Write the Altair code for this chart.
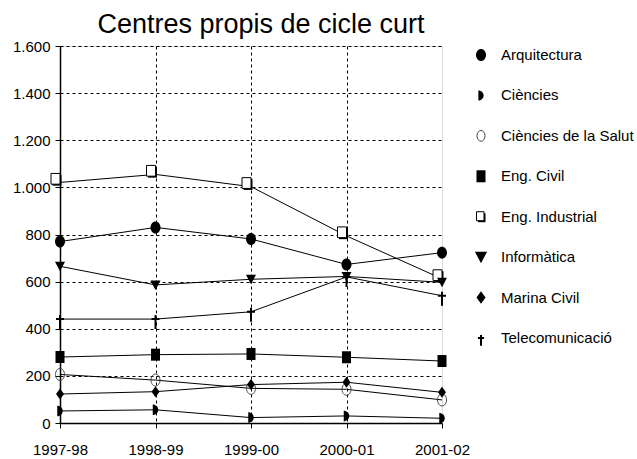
import altair as alt
import pandas as pd

# Academic years on the x axis
years = ["1997-98", "1998-99", "1999-00", "2000-01", "2001-02"]

# Centres, in legend order
centres = [
    "Arquitectura",
    "Ciències",
    "Ciències de la Salut",
    "Eng. Civil",
    "Eng. Industrial",
    "Informàtica",
    "Marina Civil",
    "Telecomunicació",
]

# Students per centre and year
arquitectura = [770, 830, 781, 673, 723]
ciencies = [51, 56, 23, 30, 20]
ciencies_salut = [206, 182, 147, 143, 98]
eng_civil = [280, 290, 293, 279, 263]
eng_industrial = [1021, 1055, 1003, 794, 612]
informatica = [665, 586, 610, 622, 597]
marina_civil = [123, 133, 163, 173, 130]
telecomunicacio = [441, 441, 472, 620, 540]

y_ticks = [0, 200, 400, 600, 800, 1000, 1200, 1400, 1600]

series = [arquitectura, ciencies, ciencies_salut, eng_civil,
          eng_industrial, informatica, marina_civil, telecomunicacio]

df = pd.DataFrame(
    [{"centre": c, "curs": y, "alumnes": v}
     for c, vals in zip(centres, series) for y, v in zip(years, vals)]
)

FONT = "Liberation Sans"

# Marker outlines (unit = sqrt(size)/2 px)
ELLIPSE = "M0,-1.2 A1,1.2 0 1,1 0,1.2 A1,1.2 0 1,1 0,-1.2 Z"
HALF = "M-0.55,-1.05 A1.1,1.05 0 0,1 -0.55,1.05 Z"
OVAL = "M0,-1.2 A0.9,1.2 0 1,1 0,1.2 A0.9,1.2 0 1,1 0,-1.2 Z"
RECT = "M-0.9,-1.2 L0.9,-1.2 L0.9,1.2 L-0.9,1.2 Z"
SHADOW = "M-1.5,-1.5 L0.3,-1.5 L0.3,0.65 L-1.5,0.65 Z"
BOX = "M-1.8,-1.8 L0,-1.8 L0,0.35 L-1.8,0.35 Z"
SHADOW_C = "M-0.6,-0.7 L0.9,-0.7 L0.9,1.1 L-0.6,1.1 Z"
BOX_C = "M-0.9,-1.0 L0.6,-1.0 L0.6,0.8 L-0.9,0.8 Z"
TRI = "M-1,-0.9 L1,-0.9 L0,1 Z"
DIAMOND = "M0,-1.1 L0.8,0 L0,1.1 L-0.8,0 Z"
DAGGER = "M0,-0.8 L0,2 M-0.8,0 L0.8,0"

# (shape, filled, fill, stroke, strokeWidth) per drawn layer of each centre
plot_marks = {
    "Arquitectura": [(ELLIPSE, True, "black", "black", 0)],
    "Ciències": [(HALF, True, "black", "black", 0)],
    "Ciències de la Salut": [(OVAL, False, "none", "#444444", 1)],
    "Eng. Civil": [(RECT, True, "black", "black", 0)],
    "Eng. Industrial": [(SHADOW, True, "black", "black", 0),
                        (BOX, True, "white", "black", 1)],
    "Informàtica": [(TRI, True, "black", "black", 0)],
    "Marina Civil": [(DIAMOND, True, "black", "black", 0)],
    "Telecomunicació": [(DAGGER, False, "none", "black", 2)],
}
legend_marks = dict(plot_marks)
legend_marks["Eng. Industrial"] = [(SHADOW_C, True, "black", "black", 0),
                                   (BOX_C, True, "white", "black", 1)]
legend_sizes = {
    "Arquitectura": 100, "Ciències": 90, "Ciències de la Salut": 80,
    "Eng. Civil": 100, "Eng. Industrial": 100, "Informàtica": 150,
    "Marina Civil": 130, "Telecomunicació": 60,
}

x_enc = alt.X(
    "curs:N",
    sort=years,
    scale=alt.Scale(type="point", domain=years, padding=0),
    axis=alt.Axis(
        title=None, labelAngle=0, labelFont=FONT, labelFontSize=15,
        labelColor="black", labelPadding=14, tickSize=5, tickColor="black",
        domainColor="black", domainWidth=1.5,
        grid=True, gridColor="black", gridDash=[3, 3], gridWidth=1,
        gridOpacity=alt.condition("datum.value == '2001-02'", alt.value(0), alt.value(1)),
    ),
)
y_enc = alt.Y(
    "alumnes:Q",
    scale=alt.Scale(domain=[0, 1600], nice=False, zero=True),
    axis=alt.Axis(
        title=None, values=y_ticks,
        labelExpr="replace(format(datum.value, ','), ',', '.')",
        labelFont=FONT, labelFontSize=15, labelColor="black",
        labelPadding=5, tickSize=5, tickColor="black",
        domainColor="black", domainWidth=1.5,
        grid=True, gridColor="black", gridDash=[3, 3], gridWidth=1,
    ),
)

lines = alt.Chart(df).mark_line(color="black", strokeWidth=1).encode(
    x=x_enc, y=y_enc, detail="centre:N"
)

point_layers = []
for c in centres:
    sub = df[df["centre"] == c]
    for shape, filled, fill, stroke, sw in plot_marks[c]:
        point_layers.append(
            alt.Chart(sub).mark_point(
                shape=shape, filled=filled, fill=fill, stroke=stroke,
                strokeWidth=sw, size=100, opacity=1,
            ).encode(x=x_enc, y=y_enc)
        )

data_layer = alt.layer(lines, *point_layers)

# Legend column on the right
leg_df = pd.DataFrame({"centre": centres})
leg_y = alt.Y("centre:N", scale=alt.Scale(type="point", domain=centres, range=[9, 292], padding=0), axis=None)

leg_layers = []
for c in centres:
    sub = leg_df[leg_df["centre"] == c]
    for shape, filled, fill, stroke, sw in legend_marks[c]:
        leg_layers.append(
            alt.Chart(sub).mark_point(
                shape=shape, filled=filled, fill=fill, stroke=stroke,
                strokeWidth=sw, size=legend_sizes[c], opacity=1,
            ).encode(x=alt.value(421), y=leg_y)
        )
leg_text = alt.Chart(leg_df).mark_text(
    align="left", baseline="middle", font=FONT, fontSize=15, color="black"
).encode(x=alt.value(441), y=leg_y, text="centre:N")

legend_layer = alt.layer(*leg_layers, leg_text)

chart = alt.layer(data_layer, legend_layer).resolve_scale(y="independent").properties(
    width=382,
    height=377,
    title=alt.Title(
        "Centres propis de cicle curt", font=FONT, fontSize=27,
        fontWeight="normal", color="black", anchor="middle", dx=10, dy=27,
        baseline="alphabetic", offset=6,
    ),
    autosize=alt.AutoSizeParams(type="none"),
    padding={"left": 60, "top": 46, "right": 195, "bottom": 36},
).configure_view(stroke=None).configure(background="white")

chart.save("out.html", embed_options={"renderer": "svg", "actions": False})
